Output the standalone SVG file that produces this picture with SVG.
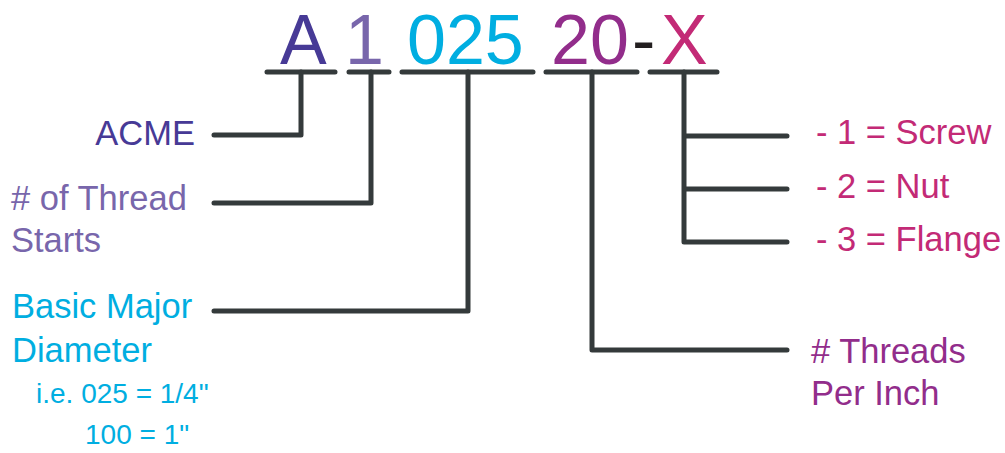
<svg xmlns="http://www.w3.org/2000/svg" width="1005" height="453" viewBox="0 0 1005 453">
<style>
text{font-family:"Liberation Sans",Arial,sans-serif}
.big{font-size:70px}
.lbl{font-size:34.5px}
.sm{font-size:28px}
.ln{fill:none;stroke:#343a3b;stroke-width:5;stroke-linecap:round;stroke-linejoin:round}
.c1{fill:#473a96}.c2{fill:#7866ab}.c3{fill:#00aee1}.c4{fill:#922d8b}.c5{fill:#c32a76}
</style>
<rect width="1005" height="453" fill="#fff"/>
<g id="code">
<text class="big c1" x="280" y="63.5">A</text>
<text class="big c2" x="345" y="63.5">1</text>
<text class="big c3" x="407" y="63.5">025</text>
<text class="big c4" x="551" y="63.5">20</text>
<text class="big" x="632" y="63.5" fill="#231f20">-</text>
<text class="big c5" x="661" y="63.5">X</text>
</g>
<g id="connectors">
<path class="ln" d="M267 72H335M349 72H389M402 72H533M546 72H637M650 72H717"/>
<path class="ln" d="M301 72V135H214"/>
<path class="ln" d="M371 72V203H214"/>
<path class="ln" d="M468 72V311H214"/>
<path class="ln" d="M592 72V350H787"/>
<path class="ln" d="M684 72V242H787M684 136H787M684 189H787"/>
</g>
<g id="acme"><text class="lbl c1" x="195" y="145" text-anchor="end">ACME</text></g>
<g id="starts"><text class="lbl c2" x="11" y="210"># of Thread</text><text class="lbl c2" x="11" y="252">Starts</text></g>
<g id="diameter"><text class="lbl c3" x="12" y="318">Basic Major</text><text class="lbl c3" x="12" y="362">Diameter</text>
<text class="sm c3" x="36" y="403">i.e. 025 = 1/4"</text><text class="sm c3" x="85" y="444">100 = 1"</text></g>
<g id="type"><text class="lbl c5" x="816" y="144">- 1 = Screw</text><text class="lbl c5" x="816" y="198">- 2 = Nut</text><text class="lbl c5" x="816" y="251">- 3 = Flange</text></g>
<g id="tpi"><text class="lbl c4" x="811" y="363"># Threads</text><text class="lbl c4" x="811" y="405">Per Inch</text></g>
</svg>
